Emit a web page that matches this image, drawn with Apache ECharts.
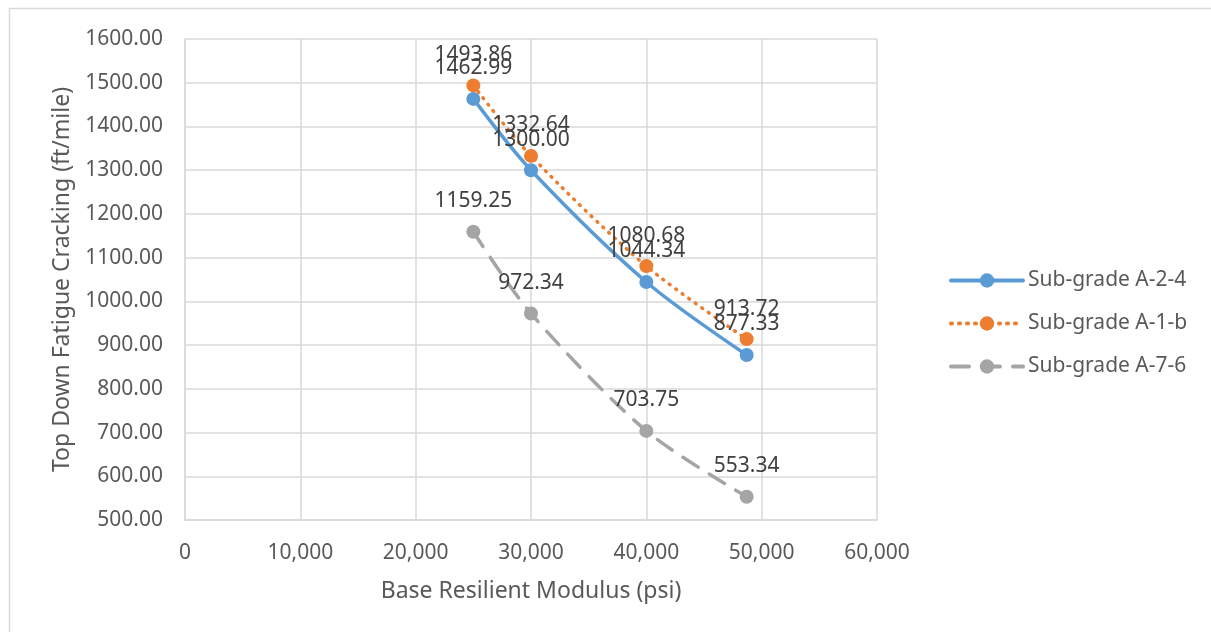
<!DOCTYPE html>
<html>
<head>
<meta charset="utf-8">
<script src="https://cdn.jsdelivr.net/npm/echarts@6/dist/echarts.min.js"></script>
<style>
  html, body { margin: 0; padding: 0; background: #fff; }
  #chart { width: 1211px; height: 632px; }
</style>
</head>
<body>
<div id="chart"></div>
<script>
var modulus = [25000, 30000, 40000, 48700];
var subA24 = [1462.99, 1300.00, 1044.34, 877.33];
var subA1b = [1493.86, 1332.64, 1080.68, 913.72];
var subA76 = [1159.25, 972.34, 703.75, 553.34];
var seriesNames = ["Sub-grade A-2-4", "Sub-grade A-1-b", "Sub-grade A-7-6"];

var font = "'Noto Sans', 'Open Sans', sans-serif";

function pairs(ys) {
  return modulus.map(function (x, i) { return [x, ys[i]]; });
}

function makeSeries(name, ys, color, lineType) {
  return {
    name: name,
    type: "line",
    smooth: 0.3,
    data: pairs(ys),
    symbol: "circle",
    symbolSize: 14,
    itemStyle: { color: color },
    lineStyle: { color: color, width: 3.5, type: lineType, cap: "round" },
    label: {
      show: true,
      position: "top",
      distance: 13,
      fontFamily: font,
      fontSize: 21,
      color: "#404040",
      formatter: function (p) { return p.value[1].toFixed(2); }
    },
    emphasis: { disabled: true },
    z: 3
  };
}

var ec = echarts.init(document.getElementById("chart"));
ec.setOption({
  animation: false,
  textStyle: { fontFamily: font },
  graphic: [
    {
      type: "rect",
      shape: { x: 9.5, y: 8.5, width: 1300, height: 700 },
      style: { fill: null, stroke: "#d9d9d9", lineWidth: 1.5 },
      silent: true,
      z: -10
    }
  ],
  grid: { left: 185, right: 334, top: 39, bottom: 112 },
  legend: {
    orient: "vertical",
    left: 944,
    top: 265,
    itemWidth: 72,
    itemHeight: 18,
    itemGap: 22,
    data: seriesNames,
    lineStyle: { width: 4 },
    textStyle: { fontFamily: font, fontSize: 21, color: "#595959" }
  },
  xAxis: {
    type: "value",
    min: 0,
    max: 60000,
    interval: 10000,
    name: "Base Resilient Modulus (psi)",
    nameLocation: "middle",
    nameGap: 60,
    nameTextStyle: { fontFamily: font, fontSize: 23, color: "#595959" },
    axisLine: { show: true, lineStyle: { color: "#d9d9d9", width: 1.5 } },
    axisTick: { show: false },
    axisLabel: {
      margin: 23,
      fontFamily: font,
      fontSize: 21,
      color: "#595959",
      formatter: function (v) { return v.toLocaleString("en-US"); }
    },
    splitLine: { show: true, lineStyle: { color: "#d9d9d9", width: 1.5 } }
  },
  yAxis: {
    type: "value",
    min: 500,
    max: 1600,
    interval: 100,
    name: "Top Down Fatigue Cracking (ft/mile)",
    nameLocation: "middle",
    nameRotate: 90,
    nameGap: 110,
    nameTextStyle: { fontFamily: font, fontSize: 23, color: "#595959" },
    axisLine: { show: true, lineStyle: { color: "#d9d9d9", width: 1.5 } },
    axisTick: { show: false },
    axisLabel: {
      margin: 22,
      fontFamily: font,
      fontSize: 21,
      color: "#595959",
      formatter: function (v) { return v.toFixed(2); }
    },
    splitLine: { show: true, lineStyle: { color: "#d9d9d9", width: 1.5 } }
  },
  series: [
    makeSeries(seriesNames[0], subA24, "#5B9BD5", "solid"),
    makeSeries(seriesNames[1], subA1b, "#ED7D31", [1, 7]),
    makeSeries(seriesNames[2], subA76, "#A5A5A5", [18, 13])
  ]
});
</script>
</body>
</html>
